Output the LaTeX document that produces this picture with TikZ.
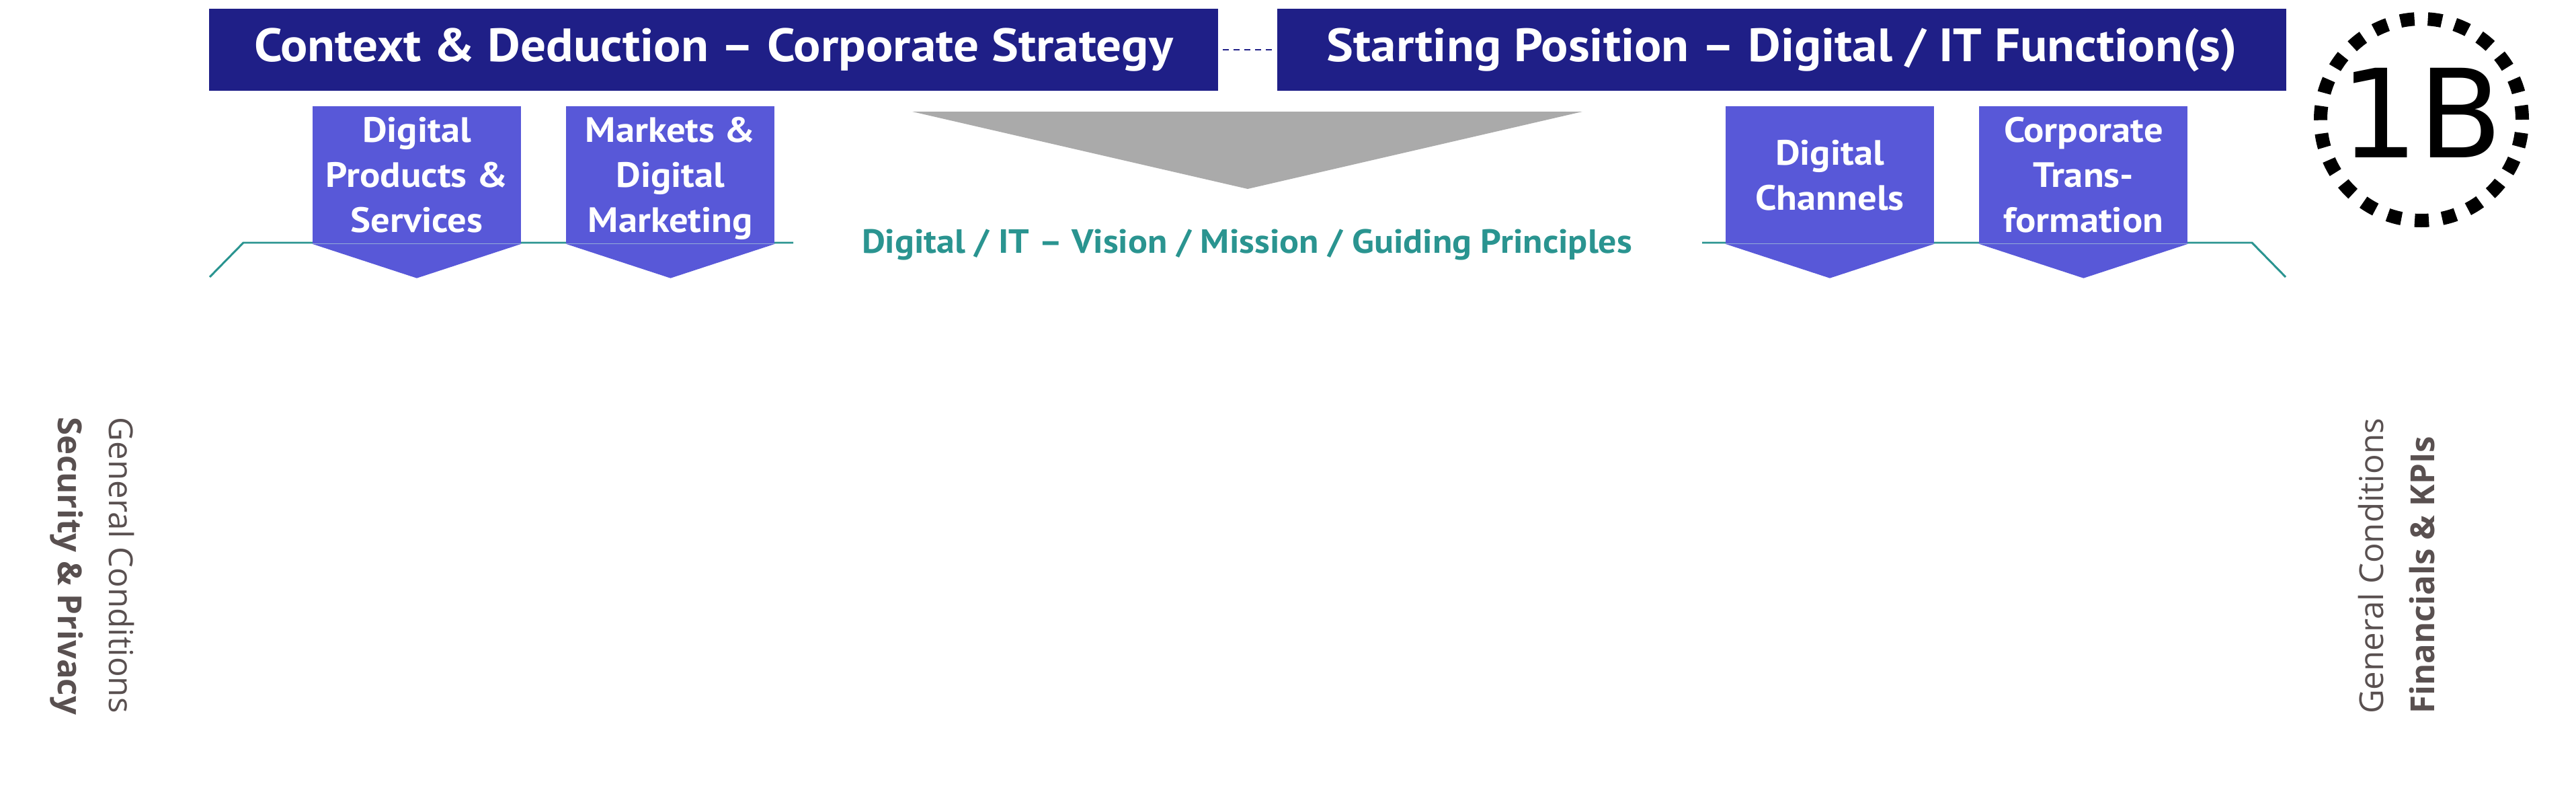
\documentclass[tikz,border=0pt]{standalone}
\usepackage{fontspec}
\usetikzlibrary{positioning}
\setmainfont{PT Sans}[FakeStretch=1.08]
\newfontfamily\condfont{Open Sans}
\newfontfamily\badgefont{DejaVu Sans}
\definecolor{navy}{HTML}{1F1F87}
\definecolor{tabc}{HTML}{5858D8}
\definecolor{visc}{HTML}{2A9490}
\definecolor{funnel}{HTML}{AAAAAA}
\definecolor{cond}{HTML}{595050}

\begin{document}
\begin{tikzpicture}[font=\bfseries,
    head/.style={fill=navy, text=white, minimum width=150.1mm, minimum height=12.2mm, inner sep=0pt,
                 font=\bfseries\fontsize{19.8}{24}\selectfont},
    tabbox/.style={fill=tabc, text=white, minimum width=31mm, minimum height=20.4mm, inner sep=0pt,
                   text depth=0pt, align=center, font=\bfseries\fontsize{14.9}{19}\selectfont},
    rim/.style={draw=visc, line width=0.85pt},
    side/.style={text=cond, align=left, inner sep=0pt, font=\condfont\fontsize{14}{21.6}\selectfont}]

  \useasboundingbox (0,0) rectangle (383.2mm,-117.2mm);

  % headline bars
  \node[head] (ctx) at (106.15mm,-7.4mm) {Context \& Deduction – Corporate Strategy};
  \node[head, right=8.7mm of ctx] (pos) {Starting Position – Digital / IT Function(s)};
  \draw[navy, line width=0.6pt, dash pattern=on 0.9mm off 0.7mm, shorten <=0.6mm, shorten >=0.6mm] (ctx) -- (pos);

  % badge
  \node[draw, circle, line width=2mm, dash pattern=on 2.1mm off 2mm, minimum size=30mm, inner sep=0pt,
        text depth=5.7pt, font=\badgefont\fontsize{52}{52}\selectfont] (badge) at (360.2mm,-17.8mm) {1B};

  % rim under the vision line
  \draw[rim] (31.2mm,-41.2mm) -- (36.2mm,-36.1mm) -- (118mm,-36.1mm);
  \draw[rim] (253.2mm,-36.1mm) -- (335mm,-36.1mm) -- (340mm,-41.2mm);

  % funnel
  \fill[funnel] (135.7mm,-16.6mm) -- (235.4mm,-16.6mm) -- (185.6mm,-28.1mm) -- cycle;
  \node[text=visc, font=\bfseries\fontsize{14.2}{16}\selectfont] (vision) at (185.5mm,-36.4mm)
    {Digital / IT – Vision / Mission / Guiding Principles};

  % arrow tabs
  \node[tabbox] (dps) at (62mm,-26mm) {Digital\\Products \&\\Services};
  \node[tabbox, right=6.6mm of dps] (mdm) {Markets \&\\Digital\\Marketing};
  \node[tabbox] (dch) at (272.2mm,-26mm) {Digital\\Channels};
  \node[tabbox, right=6.6mm of dch] (ctf) {Corporate\\Trans-\\formation};
  \foreach \t in {dps, mdm, dch, ctf}
    \fill[tabc] (\t.south west) -- (\t.south east) -- ([yshift=-5.1mm]\t.south) -- cycle;

  % general conditions
  \node[side, rotate=-90] (secp) at (13.7mm,-84.2mm) {General Conditions\\\textbf{Security \& Privacy}};
  \node[side, rotate=90] (fink) at (356.5mm,-84.2mm) {General Conditions\\\textbf{Financials \& KPIs}};
\end{tikzpicture}
\end{document}
